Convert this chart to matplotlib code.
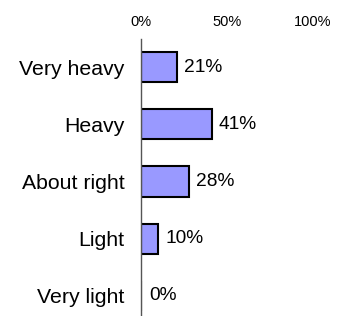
import matplotlib.pyplot as plt

# Datos
categorias = ["Very heavy", "Heavy", "About right", "Light", "Very light"]
valores = [21, 41, 28, 10, 0]
ticks = [0, 50, 100]
tick_labels = ["0%", "50%", "100%"]

plt.rcParams['font.family'] = ['Liberation Sans', 'DejaVu Sans']

fig = plt.figure(figsize=(3.39, 3.16), dpi=100)
ax = fig.add_axes([141 / 339, 0.0, 172 / 339, (316 - 39) / 316])

pos = list(range(len(categorias)))
ax.barh(pos, valores, height=0.53, color='#9999FF', edgecolor='black', linewidth=1.5)

for y, v in zip(pos, valores):
    ax.annotate(f"{v}%", (v, y), xytext=(5 if v > 0 else 6, 0), textcoords='offset points',
                ha='left', va='center', fontsize=13.8, color='black')

ax.set_xlim(0, 100)
ax.set_ylim(4.35, -0.49)
ax.set_yticks(pos)
ax.set_yticklabels(categorias, fontsize=15.3)
ax.set_xticks(ticks)
ax.set_xticklabels(tick_labels, fontsize=10.5)
ax.xaxis.tick_top()
ax.tick_params(axis='x', length=0, pad=7)
ax.tick_params(axis='y', length=0, pad=12)

for lado in ['top', 'right', 'bottom']:
    ax.spines[lado].set_visible(False)
ax.spines['left'].set_color('#555555')
ax.spines['left'].set_linewidth(1.0)

plt.savefig("out.png", dpi=100)
plt.close()
